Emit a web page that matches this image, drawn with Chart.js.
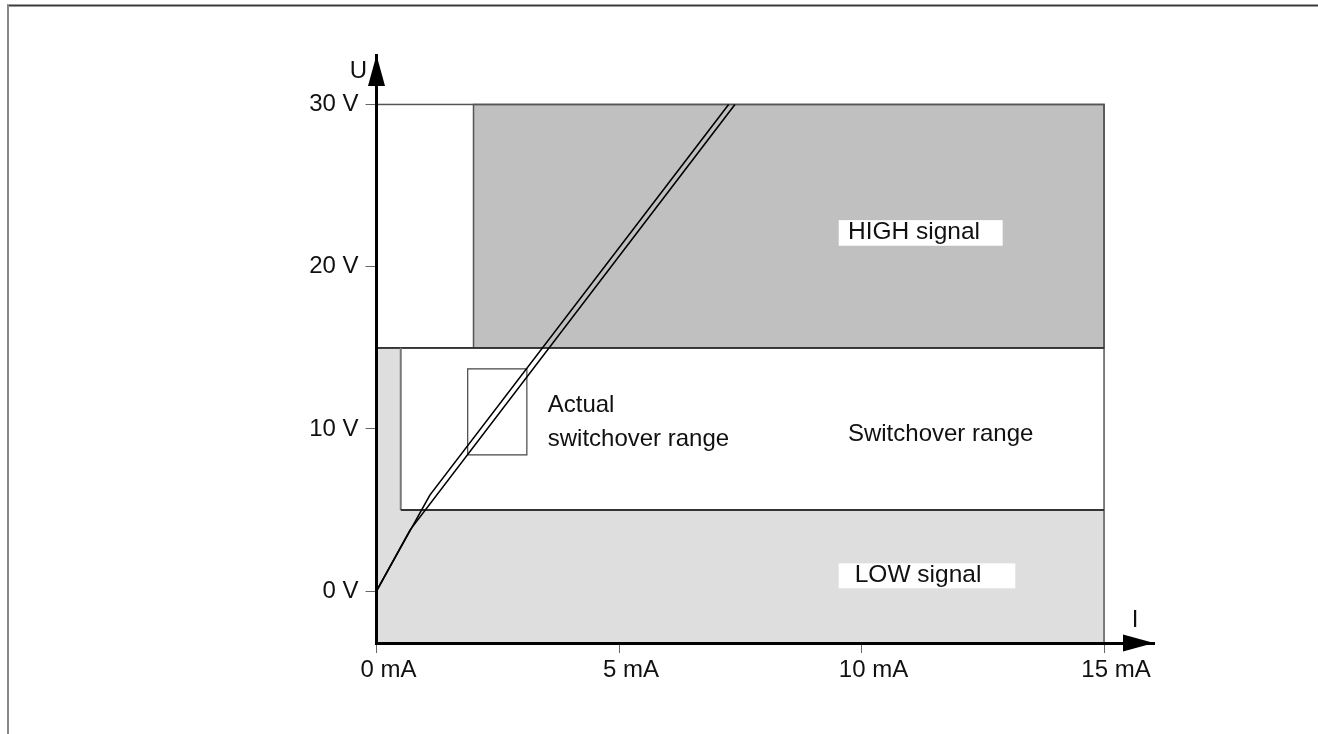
<!DOCTYPE html>
<html>
<head>
<meta charset="utf-8">
<script src="https://cdn.jsdelivr.net/npm/chart.js@4/dist/chart.umd.min.js"></script>
<style>
  html, body { margin: 0; padding: 0; background: #fff; overflow: hidden; }
  canvas { display: block; }
</style>
</head>
<body>
<canvas id="chart" width="1318" height="734"></canvas>
<script>
// Axis ticks: current I (mA) and voltage U (V)
const currentTicks = [0, 5, 10, 15];
const voltageTicks = [0, 10, 20, 30];
const currentRange = [0, 16.03];
const voltageRange = [-3.2, 33.05];

// Zones, each as [I from, I to, U from, U to]
const lowZone = [0, 15, -3.2, 15];
const switchoverZone = [0.5, 15, 5, 15];
const highZone = [2, 15, 15, 30];
const upperBand = [0, 15, 15, 30];
const actualSwitchoverBox = [1.88, 3.10, 8.4, 13.7];

// Characteristic curves (I in mA, U in V)
const curveA_I = [0, 1.10, 7.26];
const curveA_U = [0, 5.92, 30];
const curveB_I = [0, 0.69, 7.39];
const curveB_U = [0, 3.76, 30];

const FONT = '"Liberation Sans", Arial, Helvetica, sans-serif';

const zip = (xs, ys) => xs.map((x, i) => ({ x, y: ys[i] }));
const boxPath = b => [
  { x: b[0], y: b[2] }, { x: b[1], y: b[2] }, { x: b[1], y: b[3] },
  { x: b[0], y: b[3] }, { x: b[0], y: b[2] }
];

// Frame around the figure
const framePlugin = {
  id: 'frame',
  beforeDraw(chart) {
    const ctx = chart.ctx;
    ctx.save();
    ctx.lineWidth = 2;
    ctx.strokeStyle = '#3a3a3a';
    ctx.beginPath(); ctx.moveTo(7, 5.5); ctx.lineTo(chart.width, 5.5); ctx.stroke();
    ctx.strokeStyle = '#888';
    ctx.beginPath(); ctx.moveTo(8, 5); ctx.lineTo(8, chart.height); ctx.stroke();
    ctx.restore();
  }
};

// Signal zones behind the axes
const zonesPlugin = {
  id: 'zones',
  beforeDraw(chart) {
    const { ctx, scales: { x, y } } = chart;
    const rect = (b) => {
      const x0 = x.getPixelForValue(b[0]), x1 = x.getPixelForValue(b[1]);
      const y0 = y.getPixelForValue(b[2]), y1 = y.getPixelForValue(b[3]);
      return [x0, y1, x1 - x0, y0 - y1];
    };
    ctx.save();
    ctx.fillStyle = '#dedede';
    ctx.fillRect(...rect(lowZone));
    ctx.fillStyle = '#c0c0c0';
    ctx.fillRect(...rect(highZone));
    ctx.fillStyle = '#ffffff';
    ctx.fillRect(...rect(switchoverZone));

    ctx.lineWidth = 1.5;
    ctx.strokeStyle = '#555';
    ctx.strokeRect(...rect(upperBand));
    ctx.strokeRect(...rect(highZone));
    ctx.strokeRect(...rect(lowZone));
    ctx.strokeStyle = '#333';
    ctx.lineWidth = 1.8;
    ctx.beginPath();
    ctx.moveTo(x.getPixelForValue(0), y.getPixelForValue(15));
    ctx.lineTo(x.getPixelForValue(15), y.getPixelForValue(15));
    ctx.stroke();
    ctx.strokeStyle = '#777';
    ctx.lineWidth = 2;
    ctx.beginPath();
    ctx.moveTo(x.getPixelForValue(switchoverZone[0]), y.getPixelForValue(switchoverZone[3]));
    ctx.lineTo(x.getPixelForValue(switchoverZone[0]), y.getPixelForValue(switchoverZone[2]));
    ctx.stroke();
    ctx.strokeStyle = '#333';
    ctx.lineWidth = 1.8;
    ctx.beginPath();
    ctx.moveTo(x.getPixelForValue(switchoverZone[0]), y.getPixelForValue(switchoverZone[2]));
    ctx.lineTo(x.getPixelForValue(switchoverZone[1]), y.getPixelForValue(switchoverZone[2]));
    ctx.stroke();
    ctx.restore();
  }
};

// Arrowheads, axis names and zone captions
const annotationsPlugin = {
  id: 'annotations',
  afterDraw(chart) {
    const { ctx, scales: { x, y } } = chart;
    const px = v => x.getPixelForValue(v);
    const py = v => y.getPixelForValue(v);
    ctx.save();
    ctx.fillStyle = '#000';
    // U axis arrow
    const ax = px(0), ay = y.top;
    ctx.beginPath();
    ctx.moveTo(ax, ay); ctx.lineTo(ax + 8.5, ay + 31); ctx.lineTo(ax - 8.5, ay + 31);
    ctx.closePath(); ctx.fill();
    // I axis arrow
    const bx = x.right, by = py(voltageRange[0]);
    ctx.beginPath();
    ctx.moveTo(bx, by); ctx.lineTo(bx - 31, by - 8.5); ctx.lineTo(bx - 31, by + 8.5);
    ctx.closePath(); ctx.fill();

    ctx.font = '24px ' + FONT;
    ctx.fillStyle = '#111';
    ctx.textBaseline = 'alphabetic';
    ctx.textAlign = 'center';
    ctx.fillText('U', ax - 18, ay + 23);
    ctx.fillText('I', bx - 19, by - 16);

    ctx.textAlign = 'left';
    const captionBox = (i0, i1, u0, u1) => {
      ctx.fillStyle = '#fff';
      ctx.fillRect(px(i0), py(u1), px(i1) - px(i0), py(u0) - py(u1));
      ctx.fillStyle = '#111';
    };
    captionBox(9.53, 12.91, 21.29, 22.87);
    ctx.font = '24.5px ' + FONT;
    ctx.fillText('HIGH signal', px(9.72), py(21.68));
    captionBox(9.53, 13.17, 0.17, 1.71);
    ctx.fillText('LOW signal', px(9.86), py(0.54));
    ctx.font = '24px ' + FONT;
    ctx.fillText('Switchover range', px(9.72), py(9.25));
    ctx.fillText('Actual', px(3.53), py(11.04));
    ctx.fillText('switchover range', px(3.53), py(8.94));
    ctx.restore();
  }
};

new Chart(document.getElementById('chart'), {
  type: 'scatter',
  data: {
    datasets: [
      { data: zip(curveA_I, curveA_U), showLine: true, borderColor: '#000', borderWidth: 1.6, pointRadius: 0, tension: 0 },
      { data: zip(curveB_I, curveB_U), showLine: true, borderColor: '#000', borderWidth: 1.6, pointRadius: 0, tension: 0 },
      { data: boxPath(actualSwitchoverBox), showLine: true, borderColor: '#444', borderWidth: 1.2, pointRadius: 0, tension: 0 }
    ]
  },
  options: {
    responsive: false,
    animation: false,
    devicePixelRatio: 1,
    layout: { padding: { left: 0, right: 1318 - 1154, top: 55, bottom: 0 } },
    plugins: { legend: { display: false }, tooltip: { enabled: false } },
    scales: {
      x: {
        type: 'linear',
        min: currentRange[0],
        max: currentRange[1],
        afterBuildTicks: s => { s.ticks = currentTicks.map(v => ({ value: v })); },
        afterFit: s => { s.height = 734 - 643; },
        border: { display: true, color: '#000', width: 3 },
        grid: { drawOnChartArea: false, drawTicks: true, tickLength: 10, tickColor: '#666', tickWidth: 1 },
        ticks: {
          callback: v => v + ' mA',
          font: { family: FONT, size: 24 },
          color: '#111',
          padding: 3,
          labelOffset: 12,
          maxRotation: 0,
          autoSkip: false
        }
      },
      y: {
        type: 'linear',
        min: voltageRange[0],
        max: voltageRange[1],
        afterBuildTicks: s => { s.ticks = voltageTicks.map(v => ({ value: v })); },
        afterFit: s => { s.width = 376.5; },
        border: { display: true, color: '#000', width: 3 },
        grid: { drawOnChartArea: false, drawTicks: true, tickLength: 11, tickColor: '#666', tickWidth: 1 },
        ticks: {
          callback: v => v + ' V',
          font: { family: FONT, size: 24 },
          color: '#111',
          padding: 7,
          autoSkip: false
        }
      }
    }
  },
  plugins: [framePlugin, zonesPlugin, annotationsPlugin]
});
</script>
</body>
</html>
